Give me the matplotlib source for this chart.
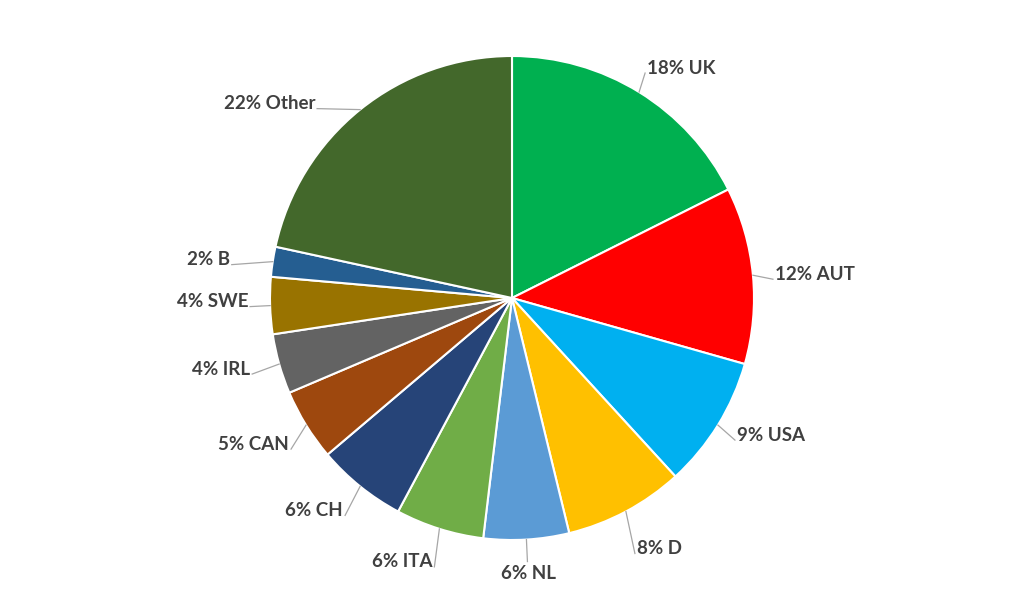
import numpy as np
import matplotlib.pyplot as plt

countries = ["UK", "AUT", "USA", "D", "NL", "ITA", "CH", "CAN", "IRL", "SWE", "B", "Other"]
shares = [17.6, 11.8, 8.8, 8.0, 5.7, 5.9, 6.0, 4.8, 4.0, 3.8, 2.0, 21.6]
pct_labels = ["18%", "12%", "9%", "8%", "6%", "6%", "6%", "5%", "4%", "4%", "2%", "22%"]
colors = ["#00B050", "#FF0000", "#00B0F0", "#FFC000", "#5B9BD5", "#70AD47",
          "#264478", "#9E480E", "#636363", "#997300", "#255E91", "#43682B"]

# label placement (pixel offsets from the wedge edge, y down) and alignment
label_offsets = [(8, -24), (22, -1), (19, 10), (11, 37), (2, 34), (-7, 33),
                 (-17, 24), (-17, 19), (-29, 5), (-22, -4), (-43, -2), (-45, -6)]
label_align = ["left", "left", "left", "left", "center", "right",
               "right", "right", "right", "right", "right", "right"]

fig = plt.figure(figsize=(10.24, 5.98), dpi=100)
ax = fig.add_axes([0, 0, 1, 1])

R = 242.0
wedges, _ = ax.pie(shares, colors=colors, startangle=90, counterclock=False,
                   radius=1.0, wedgeprops=dict(edgecolor="white", linewidth=1.5))

for w, pct, name, (dx, dy), ha in zip(wedges, pct_labels, countries, label_offsets, label_align):
    mid = np.deg2rad((w.theta1 + w.theta2) / 2)
    ex, ey = np.cos(mid), np.sin(mid)
    tx, ty = ex + dx / R, ey - dy / R
    if ha == "left":
        lx, ly = tx - 2 / R, ty - 5 / R
    elif ha == "right":
        lx, ly = tx + 2 / R, ty - 5 / R
    else:
        lx, ly = tx - 1 / R, ty + 12 / R
    ax.plot([ex, lx], [ey, ly], color="#A6A6A6", lw=0.9)
    ax.text(tx, ty, f"{pct} {name}", ha=ha, va="center", fontsize=13.5,
            fontweight="bold", family=["Lato", "DejaVu Sans"], color="#404040")

ax.set_xlim(-512 / R, 512 / R)
ax.set_ylim(-300 / R, 298 / R)
ax.set_aspect("equal")
ax.axis("off")

fig.savefig("out.png", dpi=100, facecolor="white")
